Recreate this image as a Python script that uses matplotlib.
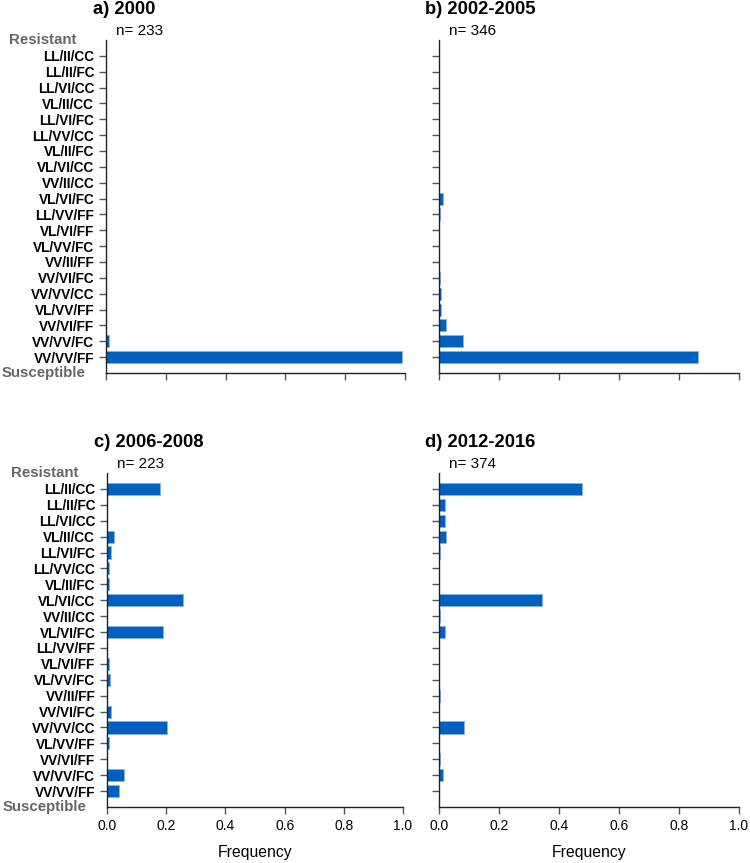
import matplotlib
matplotlib.use('Agg')
import matplotlib.pyplot as plt
import matplotlib.transforms as mtransforms

plt.rcParams['font.family'] = ['Liberation Sans', 'DejaVu Sans']

genotypes = ['LL/II/CC', 'LL/II/FC', 'LL/VI/CC', 'VL/II/CC', 'LL/VI/FC', 'LL/VV/CC',
             'VL/II/FC', 'VL/VI/CC', 'VV/II/CC', 'VL/VI/FC', 'LL/VV/FF', 'VL/VI/FF',
             'VL/VV/FC', 'VV/II/FF', 'VV/VI/FC', 'VV/VV/CC', 'VL/VV/FF', 'VV/VI/FF',
             'VV/VV/FC', 'VV/VV/FF']

freq_2000 = [0, 0, 0, 0, 0, 0, 0, 0, 0, 0,
             0, 0, 0, 0, 0, 0, 0, 0, 0.009, 0.991]
freq_2002_2005 = [0, 0, 0, 0, 0, 0, 0, 0, 0, 0.015,
                  0.004, 0, 0, 0, 0.004, 0.008, 0.008, 0.023, 0.081, 0.864]
freq_2006_2008 = [0.179, 0, 0, 0.022, 0.013, 0.005, 0.005, 0.256, 0, 0.188,
                  0, 0.005, 0.009, 0, 0.013, 0.202, 0.005, 0, 0.058, 0.040]
freq_2012_2016 = [0.476, 0.019, 0.019, 0.023, 0.003, 0, 0, 0.345, 0.005, 0.019,
                  0, 0, 0, 0.003, 0, 0.085, 0, 0.003, 0.013, 0]

titles = ['a) 2000', 'b) 2002-2005', 'c) 2006-2008', 'd) 2012-2016']
sample_sizes = [233, 346, 223, 374]
panels = [freq_2000, freq_2002_2005, freq_2006_2008, freq_2012_2016]

fig = plt.figure(figsize=(7.5, 8.63), dpi=100)

# axes boxes in figure fractions: left, bottom, width, height
boxes = [[0.1413, 0.5678, 0.3987, 0.3859],
         [0.5853, 0.5678, 0.4000, 0.3859],
         [0.1427, 0.0649, 0.3947, 0.3870],
         [0.5853, 0.0649, 0.4000, 0.3870]]

ypos = list(range(len(genotypes)))

for i in range(4):
    ax = fig.add_axes(boxes[i])
    ax.barh(ypos, panels[i], height=0.76, color='#0060c0',
            edgecolor='#86b4e8', linewidth=0.7)
    ax.set_xlim(0, 1.0)
    ax.set_ylim(len(genotypes), -1)
    ax.set_yticks(ypos)
    ax.set_xticks([0, 0.2, 0.4, 0.6, 0.8, 1.0])
    for s in ['top', 'right']:
        ax.spines[s].set_visible(False)
    for s in ['left', 'bottom']:
        ax.spines[s].set_color('#222222')
        ax.spines[s].set_linewidth(1.0)
    ax.tick_params(axis='both', direction='out', length=5, width=1,
                   color='#555555', labelsize=10)

    if i % 2 == 0:
        ax.set_yticklabels(genotypes, fontsize=9.8, fontweight='bold')
        trans = mtransforms.blended_transform_factory(ax.transAxes, ax.transData)
        ax.text(-0.21, -1, 'Resistant', transform=trans, ha='center', va='center',
                fontsize=10.8, fontweight='bold', color='#666666')
        ax.text(-0.21, len(genotypes), 'Susceptible', transform=trans, ha='center',
                va='center', fontsize=10.8, fontweight='bold', color='#666666')
    else:
        ax.set_yticklabels([])

    if i < 2:
        ax.set_xticklabels([])
    else:
        ax.set_xticklabels(['0.0', '0.2', '0.4', '0.6', '0.8', '1.0'])
        ax.set_xlabel('Frequency', fontsize=11.3, labelpad=9)

    ax.text(-0.045, 1.09, titles[i], transform=ax.transAxes, ha='left', va='center',
            fontsize=13.2, fontweight='bold')
    ax.text(0.035, 1.027, 'n= ' + str(sample_sizes[i]), transform=ax.transAxes,
            ha='left', va='center', fontsize=11)

plt.savefig('out.png', dpi=100)
